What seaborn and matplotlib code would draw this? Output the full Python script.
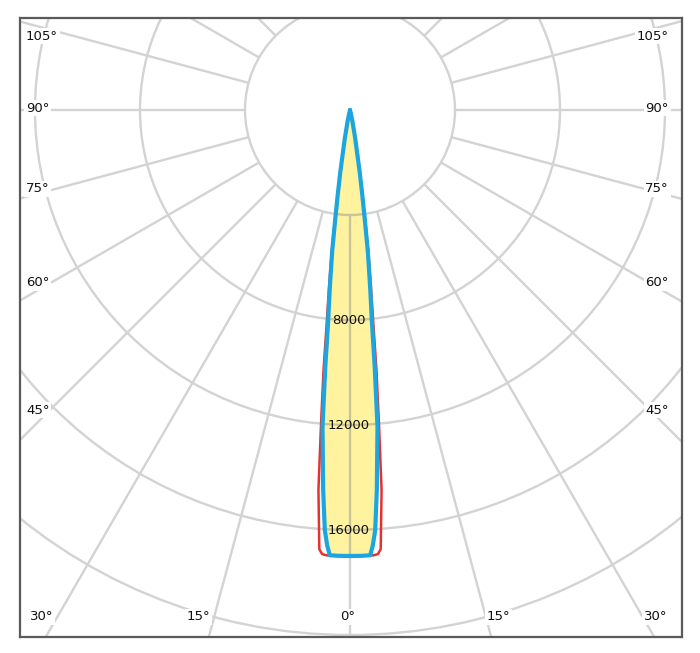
import numpy as np
import pandas as pd
import matplotlib
matplotlib.use("Agg")
import matplotlib.pyplot as plt
import seaborn as sns
from matplotlib.patches import Circle, Polygon

# ---------------- data ----------------
blue_angles = [0, 1.5, 2.6, 3.0, 3.43, 4.04, 4.96, 5.5, 5.9, 6.5, 7.2, 7.7, 8.2, 8.9, 10.4, 12.0, 14.0, 16.0]
blue_cd = [16990, 16990, 16980, 16610, 16040, 14510, 12110, 9800, 8100, 6770, 5400, 4200, 3300, 2380, 1080, 450, 120, 0]
red_angles = [0, 1.5, 3.0, 3.6, 4.0, 4.75, 5.25, 5.8, 6.2, 6.7, 7.35, 7.85, 8.35, 9.0, 10.5, 12.1, 14.1, 16.1]
red_cd = [16990, 16990, 16990, 16950, 16770, 14520, 12100, 10000, 8300, 6900, 5450, 4250, 3300, 2380, 1080, 450, 120, 0]
ring_values = [4000, 8000, 12000, 16000, 20000]
ring_label_values = [8000, 12000, 16000]
ray_angles = list(range(0, 360, 15))
side_label_angles = [45, 60, 75, 90, 105]
bottom_label_angles = [0, 15, 30]

# ---------------- style ----------------
sns.set_style("white")
plt.rcParams['font.family'] = ['DejaVu Sans']

S = 1000 / 26.25          # cd per pixel
CX, CY = 350, 110         # pole position in pixels
FS = 9.5
TXT = '#111111'


def px(xp, yp):
    return (xp - CX) * S, (CY - yp) * S


def curve_xy(angles, cd):
    a = np.radians(angles)
    r = np.asarray(cd, dtype=float)
    xr = r * np.sin(a)
    yr = -r * np.cos(a)
    x = np.concatenate([xr[::-1], -xr[1:]])
    y = np.concatenate([yr[::-1], yr[1:]])
    return x, y


fig = plt.figure(figsize=(7, 6.53), dpi=100)
L, R, T, B = 19.5, 681.7, 18.3, 636.7
ax = fig.add_axes([L / 700, 1 - B / 653, (R - L) / 700, (B - T) / 653])
x0, y0 = px(L, B)
x1, y1 = px(R, T)
ax.set_xlim(x0, x1)
ax.set_ylim(y0, y1)
ax.set_xticks([])
ax.set_yticks([])
for sp in ax.spines.values():
    sp.set_color('#5a5a5a')
    sp.set_linewidth(1.6)
    sp.set_zorder(10)

GRID = '#D3D3D3'
GRID_IN = '#C9C49A'
GLW = 1.7


def draw_grid(color, z, clip=None):
    arts = []
    for v in ring_values:
        c = Circle((0, 0), v, fill=False, ec=color, lw=GLW, zorder=z)
        ax.add_patch(c)
        arts.append(c)
    for a in ray_angles:
        t = np.radians(a)
        rr = np.array([ring_values[0], 40000])
        ln, = ax.plot(rr * np.sin(t), -rr * np.cos(t), color=color, lw=GLW,
                      zorder=z, solid_capstyle='butt')
        arts.append(ln)
    if clip is not None:
        for art in arts:
            art.set_clip_path(clip)


draw_grid(GRID, 1)

# yellow fill inside the blue curve
bx, by = curve_xy(blue_angles, blue_cd)
poly = Polygon(np.column_stack([bx, by]), closed=True, fc='#FFF3A0', ec='none', zorder=2)
ax.add_patch(poly)
draw_grid(GRID_IN, 2.5, clip=poly)

# curves
rx, ry = curve_xy(red_angles, red_cd)
df_red = pd.DataFrame({'x': rx, 'y': ry})
df_blue = pd.DataFrame({'x': bx, 'y': by})
sns.lineplot(data=df_red, x='x', y='y', sort=False, estimator=None, color='#E8312F',
             lw=1.8, ax=ax, zorder=3)
sns.lineplot(data=df_blue, x='x', y='y', sort=False, estimator=None, color='#1CA6E0',
             lw=3.0, ax=ax, zorder=4)
for ln in ax.lines[-2:]:
    ln.set_solid_joinstyle('round')
ax.set_xlabel('')
ax.set_ylabel('')
ax.set_xlim(x0, x1)
ax.set_ylim(y0, y1)

# intensity labels
for v in ring_label_values:
    ax.text(-60, -v, str(v), ha='center', va='center', fontsize=FS, color=TXT, zorder=6)

bbox = dict(fc='white', ec='none', pad=1.2)
# side angle labels
for a in side_label_angles:
    t = np.radians(a)
    yp = max(36, CY + 302 * np.cos(t) / np.sin(t) - 2)
    xl, yl = px(26, yp)
    xr_, _ = px(669, yp)
    ax.text(xl, yl, f"{a}°", ha='left', va='center', fontsize=FS, color=TXT, bbox=bbox, zorder=6)
    ax.text(xr_, yl, f"{a}°", ha='right', va='center', fontsize=FS, color=TXT, bbox=bbox, zorder=6)

# bottom angle labels
for a in bottom_label_angles:
    t = np.radians(a)
    if a == 0:
        xx, yy = px(CX - 2, 617)
        ax.text(xx, yy, f"{a}°", ha='center', va='center', fontsize=FS, color=TXT, bbox=bbox, zorder=6)
    else:
        d = 507 * np.tan(t)
        xl, yy = px(CX - d - 4, 617)
        xr_, _ = px(CX + d + 1, 617)
        ax.text(xl, yy, f"{a}°", ha='right', va='center', fontsize=FS, color=TXT, bbox=bbox, zorder=6)
        ax.text(xr_, yy, f"{a}°", ha='left', va='center', fontsize=FS, color=TXT, bbox=bbox, zorder=6)

fig.savefig('out.png', dpi=100, facecolor='white')
